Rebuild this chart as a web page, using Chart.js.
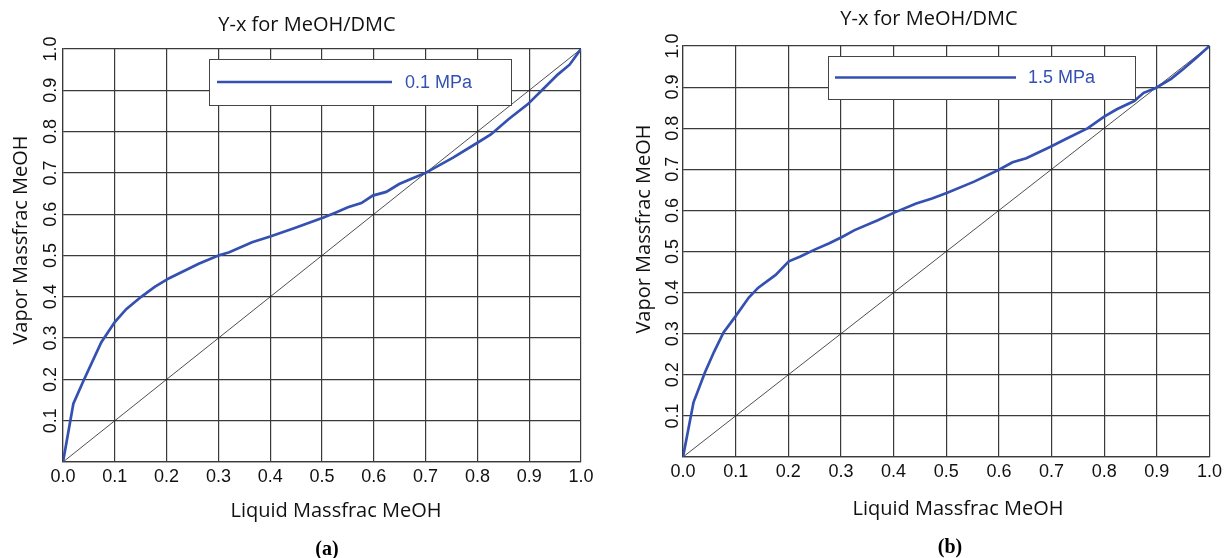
<!DOCTYPE html>
<html>
<head>
<meta charset="utf-8">
<title>Y-x for MeOH/DMC</title>
<script src="https://cdn.jsdelivr.net/npm/chart.js@4.4.1/dist/chart.umd.min.js"></script>
<style>
  html, body { margin: 0; padding: 0; background: #fff; }
  #wrap { position: relative; width: 1226px; height: 558px; overflow: hidden; }
  canvas { position: absolute; top: 0; }
  #chartA { left: 0; width: 615px; height: 558px; }
  #chartB { left: 615px; width: 611px; height: 558px; }
  .caption {
    position: absolute;
    font: bold 20px "Liberation Serif", "Times New Roman", serif;
    color: #000;
    transform: translate(-50%, -50%);
  }
</style>
</head>
<body>
<div id="wrap">
  <canvas id="chartA" width="615" height="558"></canvas>
  <canvas id="chartB" width="611" height="558"></canvas>
  <div class="caption" style="left:327px; top:548px">(a)</div>
  <div class="caption" style="left:950px; top:546px">(b)</div>
</div>
<script>
// liquid / vapour mass fractions of MeOH at 0.1 MPa
const liquidA = [0, 0.02, 0.04, 0.074, 0.10, 0.122, 0.151, 0.177, 0.205, 0.262, 0.30, 0.321, 0.365, 0.40,
  0.446, 0.503, 0.528, 0.55, 0.576, 0.598, 0.624, 0.649, 0.675, 0.70, 0.753, 0.80, 0.826, 0.86, 0.897,
  0.926, 0.955, 0.978, 1.0];
const vaporA = [0, 0.141, 0.198, 0.29, 0.339, 0.37, 0.40, 0.424, 0.445, 0.48, 0.50, 0.508, 0.532, 0.546,
  0.566, 0.592, 0.605, 0.617, 0.627, 0.645, 0.654, 0.673, 0.687, 0.70, 0.737, 0.773, 0.793, 0.83, 0.866,
  0.902, 0.938, 0.962, 1.0];

// same system at 1.5 MPa
const liquidB = [0, 0.02, 0.042, 0.059, 0.077, 0.099, 0.125, 0.143, 0.176, 0.201, 0.223, 0.249, 0.278,
  0.303, 0.326, 0.37, 0.40, 0.443, 0.473, 0.502, 0.553, 0.60, 0.626, 0.652, 0.698, 0.729, 0.769, 0.80,
  0.824, 0.857, 0.875, 0.898, 0.927, 0.952, 0.974, 1.0];
const vaporB = [0, 0.133, 0.207, 0.256, 0.303, 0.341, 0.388, 0.412, 0.443, 0.476, 0.488, 0.504, 0.52,
  0.536, 0.552, 0.576, 0.594, 0.617, 0.629, 0.643, 0.670, 0.699, 0.717, 0.727, 0.755, 0.775, 0.80, 0.828,
  0.846, 0.866, 0.886, 0.898, 0.920, 0.946, 0.97, 1.0];

// y = x reference line
const diagonalX = [0, 1];
const diagonalY = [0, 1];

const xTickLabels = ['0.0', '0.1', '0.2', '0.3', '0.4', '0.5', '0.6', '0.7', '0.8', '0.9', '1.0'];
const yTickLabels = ['', '0.1', '0.2', '0.3', '0.4', '0.5', '0.6', '0.7', '0.8', '0.9', '1.0'];

const curveColor = '#3451b2';
const gridColor = '#3a3a3a';
const tickFont = { family: '"Liberation Sans", Arial, sans-serif', size: 18 };

// chart title + axis titles, placed in canvas pixels
const frameTexts = {
    id: 'frameTexts',
    afterDraw(chart, args, opts) {
        const ctx = chart.ctx;
        ctx.save();
        ctx.fillStyle = '#111';
        ctx.font = '20px "Open Sans", sans-serif';
        ctx.textAlign = 'center';
        ctx.textBaseline = 'middle';
        ctx.fillText(opts.title, opts.titleAt[0], opts.titleAt[1]);
        ctx.fillText(opts.xTitle, opts.xTitleAt[0], opts.xTitleAt[1]);
        ctx.translate(opts.yTitleAt[0], opts.yTitleAt[1]);
        ctx.rotate(-Math.PI / 2);
        ctx.fillText(opts.yTitle, 0, 0);
        ctx.restore();
    }
};

// boxed legend sitting inside the plot area
const legendBox = {
    id: 'legendBox',
    afterDatasetsDraw(chart, args, opts) {
        const ds = chart.data.datasets[0];
        const ctx = chart.ctx;
        const x = chart.chartArea.left + opts.left;
        const y = chart.chartArea.top + opts.top;
        const mid = y + opts.height / 2;
        ctx.save();
        ctx.fillStyle = '#fff';
        ctx.fillRect(x, y, opts.width, opts.height);
        ctx.strokeStyle = '#444';
        ctx.lineWidth = 1;
        ctx.strokeRect(x + 0.5, y + 0.5, opts.width, opts.height);
        ctx.strokeStyle = ds.borderColor;
        ctx.lineWidth = 2.5;
        ctx.beginPath();
        ctx.moveTo(x + opts.lineStart, mid);
        ctx.lineTo(x + opts.lineStart + opts.lineLength, mid);
        ctx.stroke();
        ctx.fillStyle = ds.borderColor;
        ctx.font = '18px "Liberation Sans", Arial, sans-serif';
        ctx.textBaseline = 'middle';
        ctx.fillText(ds.label, x + opts.textStart, mid + 1);
        ctx.restore();
    }
};

function renderYxChart(canvasId, liquid, vapor, pressureLabel, frame) {
    const curve = liquid.map((x, i) => ({ x: x, y: vapor[i] }));
    const diagonal = diagonalX.map((x, i) => ({ x: x, y: diagonalY[i] }));

    return new Chart(document.getElementById(canvasId), {
        type: 'scatter',
        data: {
            datasets: [
                {
                    label: pressureLabel,
                    data: curve,
                    showLine: true,
                    borderColor: curveColor,
                    borderWidth: 2.7,
                    pointRadius: 0,
                    tension: 0
                },
                {
                    label: 'y = x',
                    data: diagonal,
                    showLine: true,
                    borderColor: '#222',
                    borderWidth: 0.8,
                    pointRadius: 0
                }
            ]
        },
        options: {
            responsive: false,
            animation: false,
            events: [],
            layout: {
                padding: { left: 0, top: frame.top, right: frame.right, bottom: frame.bottom }
            },
            scales: {
                x: {
                    type: 'linear',
                    min: 0,
                    max: 1,
                    afterFit: (scale) => { scale.height = 30; },
                    ticks: {
                        stepSize: 0.1,
                        autoSkip: false,
                        maxRotation: 0,
                        padding: frame.xTickPad,
                        color: '#111',
                        font: tickFont,
                        callback: (value, index) => xTickLabels[index]
                    },
                    grid: { color: gridColor, lineWidth: 1.2, drawTicks: false },
                    border: { color: gridColor, width: 1.2 }
                },
                y: {
                    type: 'linear',
                    min: 0,
                    max: 1,
                    afterFit: (scale) => { scale.width = frame.left; },
                    ticks: {
                        stepSize: 0.1,
                        autoSkip: false,
                        minRotation: 90,
                        maxRotation: 90,
                        crossAlign: 'center',
                        padding: frame.yTickPad,
                        color: '#111',
                        font: tickFont,
                        callback: (value, index) => yTickLabels[index]
                    },
                    grid: { color: gridColor, lineWidth: 1.2, drawTicks: false },
                    border: { color: gridColor, width: 1.2 }
                }
            },
            plugins: {
                legend: { display: false },
                tooltip: { enabled: false },
                frameTexts: {
                    title: 'Y-x for MeOH/DMC',
                    xTitle: 'Liquid Massfrac MeOH',
                    yTitle: 'Vapor Massfrac MeOH',
                    titleAt: frame.titleAt,
                    xTitleAt: frame.xTitleAt,
                    yTitleAt: frame.yTitleAt
                },
                legendBox: frame.legend
            }
        },
        plugins: [frameTexts, legendBox]
    });
}

renderYxChart('chartA', liquidA, vaporA, '0.1 MPa', {
    left: 63, top: 49, right: 34, bottom: 66,
    xTickPad: 4, yTickPad: -0.5,
    titleAt: [307, 25], xTitleAt: [336, 511], yTitleAt: [21, 240],
    legend: { left: 146, top: 10, width: 302, height: 46, lineStart: 8, lineLength: 175, textStart: 196 }
});

renderYxChart('chartB', liquidB, vaporB, '1.5 MPa', {
    left: 68, top: 46, right: 15, bottom: 71,
    xTickPad: 4, yTickPad: -2.5,
    titleAt: [314, 19], xTitleAt: [343, 509], yTitleAt: [29, 229],
    legend: { left: 145, top: 10, width: 307, height: 43, lineStart: 7, lineLength: 181, textStart: 200 }
});
</script>
</body>
</html>
